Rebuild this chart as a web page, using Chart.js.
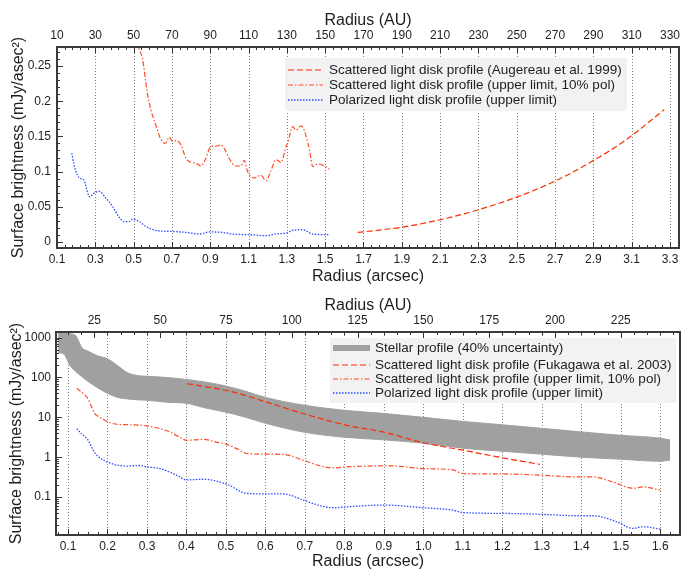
<!DOCTYPE html>
<html>
<head>
<meta charset="utf-8">
<script src="https://cdn.jsdelivr.net/npm/chart.js@4/dist/chart.umd.min.js"></script>
<style>
  html, body { margin: 0; padding: 0; background: #fff; overflow: hidden; width: 698px; height: 569px; }
  .panel { position: absolute; left: 0; width: 698px; }
  #p1 { top: 0; height: 288px; }
  #p2 { top: 288px; height: 290px; }
</style>
</head>
<body>
<div class="panel" id="p1"><canvas id="c1" width="698" height="288"></canvas></div>
<div class="panel" id="p2"><canvas id="c2" width="698" height="290"></canvas></div>
<script>
// ---------- Upper panel: linear surface-brightness profiles ----------
const augereauR  = [1.67, 1.8, 1.9, 2.1, 2.3, 2.5, 2.7, 2.9, 3.07, 3.27];
const augereauSB = [0.0136, 0.0175, 0.021, 0.0316, 0.0458, 0.0638, 0.0865, 0.1157, 0.145, 0.188];

const limitR1  = [0.515, 0.525, 0.546, 0.572, 0.59, 0.616, 0.642, 0.665, 0.686, 0.703, 0.725, 0.747, 0.773, 0.799, 0.825, 0.851, 0.877, 0.903, 0.93, 0.955, 0.975, 0.998, 1.034, 1.06, 1.078, 1.095, 1.13, 1.165, 1.191, 1.215, 1.243, 1.27, 1.296, 1.305, 1.33, 1.348, 1.374, 1.39, 1.409, 1.418, 1.435, 1.461, 1.496, 1.522];
const limitSB1 = [0.30, 0.278, 0.261, 0.211, 0.188, 0.166, 0.146, 0.140, 0.149, 0.143, 0.144, 0.138, 0.119, 0.113, 0.112, 0.108, 0.119, 0.1356, 0.136, 0.138, 0.132, 0.119, 0.108, 0.108, 0.116, 0.100, 0.091, 0.095, 0.087, 0.100, 0.117, 0.113, 0.136, 0.141, 0.164, 0.159, 0.165, 0.159, 0.141, 0.131, 0.107, 0.111, 0.108, 0.1035];

const polR1  = [0.177, 0.189, 0.206, 0.225, 0.241, 0.258, 0.271, 0.293, 0.32, 0.355, 0.39, 0.424, 0.45, 0.475, 0.494, 0.529, 0.564, 0.616, 0.703, 0.773, 0.842, 0.895, 0.965, 1.016, 1.104, 1.19, 1.243, 1.296, 1.33, 1.383, 1.435, 1.522];
const polSB1 = [0.126, 0.110, 0.095, 0.090, 0.088, 0.072, 0.064, 0.0695, 0.072, 0.0624, 0.0505, 0.0355, 0.029, 0.029, 0.0326, 0.029, 0.022, 0.0165, 0.015, 0.0136, 0.0113, 0.0143, 0.0136, 0.0113, 0.0104, 0.009, 0.0117, 0.0126, 0.0165, 0.0175, 0.0113, 0.0104];

// ---------- Lower panel: logarithmic profiles ----------
const stellarR  = [0.075, 0.09, 0.105, 0.12, 0.135, 0.15, 0.175, 0.2, 0.225, 0.25, 0.275, 0.3, 0.35, 0.4, 0.45, 0.5, 0.55, 0.6, 0.7, 0.8, 0.9, 1.0, 1.1, 1.2, 1.3, 1.4, 1.5, 1.6, 1.625];
const stellarHi = [1250, 1300, 1250, 1100, 560, 460, 350, 295, 200, 133, 112, 107, 100, 89, 76, 61, 45, 31.6, 20, 15, 12.5, 10, 7.9, 6.5, 5.3, 4.3, 3.55, 3.0, 2.7];
const stellarLo = [420, 380, 200, 140, 105, 80, 55, 40, 31.6, 29, 27.5, 26.8, 24, 22.4, 17, 13.5, 10, 7.1, 4.2, 3.16, 2.73, 2.24, 1.68, 1.41, 1.19, 1.0, 0.89, 0.79, 0.85];

const fukagawaR  = [0.402, 0.45, 0.502, 0.535, 0.603, 0.7, 0.806, 0.898, 1.0, 1.1, 1.2, 1.295];
const fukagawaSB = [69.6, 58, 47, 39, 24, 12.1, 6.3, 4.3, 2.3, 1.5, 0.97, 0.66];

const limitR2  = [0.122, 0.139, 0.151, 0.16, 0.168, 0.181, 0.202, 0.232, 0.265, 0.3, 0.333, 0.358, 0.38, 0.4, 0.443, 0.476, 0.502, 0.535, 0.552, 0.603, 0.645, 0.696, 0.738, 0.772, 0.806, 0.898, 0.93, 1.0, 1.075, 1.1, 1.2, 1.295, 1.396, 1.43, 1.48, 1.531, 1.557, 1.6];
const limitSB2 = [54, 39, 29, 18, 12.4, 10, 7.6, 6.6, 6.5, 6.1, 5.2, 4.3, 3.3, 2.66, 2.8, 2.4, 2.1, 1.5, 1.24, 1.19, 1.18, 0.84, 0.61, 0.54, 0.57, 0.61, 0.60, 0.52, 0.48, 0.39, 0.38, 0.355, 0.32, 0.32, 0.24, 0.166, 0.18, 0.15];

const polR2  = [0.122, 0.135, 0.147, 0.151, 0.164, 0.173, 0.202, 0.249, 0.282, 0.3, 0.333, 0.375, 0.4, 0.443, 0.502, 0.552, 0.603, 0.645, 0.696, 0.738, 0.772, 0.806, 0.898, 0.924, 1.0, 1.075, 1.1, 1.2, 1.295, 1.396, 1.43, 1.49, 1.53, 1.557, 1.6];
const polSB2 = [5.2, 3.8, 3.0, 2.66, 1.5, 1.12, 0.74, 0.6, 0.62, 0.57, 0.52, 0.355, 0.27, 0.28, 0.21, 0.124, 0.12, 0.12, 0.084, 0.061, 0.054, 0.057, 0.063, 0.062, 0.054, 0.047, 0.041, 0.039, 0.037, 0.034, 0.034, 0.024, 0.0165, 0.018, 0.0158];

// ---------- Axis ticks ----------
const arcsecTicksTop    = [0.1, 0.3, 0.5, 0.7, 0.9, 1.1, 1.3, 1.5, 1.7, 1.9, 2.1, 2.3, 2.5, 2.7, 2.9, 3.1, 3.3];
const auTicksTop        = [10, 30, 50, 70, 90, 110, 130, 150, 170, 190, 210, 230, 250, 270, 290, 310, 330];
const sbTicksTop        = [0, 0.05, 0.1, 0.15, 0.2, 0.25];
const arcsecTicksBottom = [0.1, 0.2, 0.3, 0.4, 0.5, 0.6, 0.7, 0.8, 0.9, 1.0, 1.1, 1.2, 1.3, 1.4, 1.5, 1.6];
const auTicksBottom     = [25, 50, 75, 100, 125, 150, 175, 200, 225];
const sbTicksBottom     = [0.1, 1, 10, 100, 1000];
const AU_PER_ARCSEC_TOP = 100;
const AU_PER_ARCSEC_BOTTOM = 150;

const FONT = "'Liberation Sans', Arial, Helvetica, sans-serif";
const INK = '#1e1e1e';
Chart.defaults.font.family = FONT;
Chart.defaults.color = INK;

function pts(xs, ys) { return xs.map((x, i) => ({ x: x, y: ys[i] })); }

// evenly spaced majors subdivided into minor ticks, kept within [min, max]
function linearTicks(majors, sub, min, max) {
  const step = (majors[1] - majors[0]) / sub;
  const out = [];
  for (let i = Math.ceil((min - majors[0]) / step - 1e-9); majors[0] + i * step <= max + 1e-9; i++) {
    const v = +(majors[0] + i * step).toFixed(6);
    out.push({ value: v, major: majors.includes(v) });
  }
  return out;
}
function logTicks(majors, min, max) {
  const out = [];
  for (let e = Math.floor(Math.log10(min)); e <= Math.ceil(Math.log10(max)); e++) {
    for (let k = 1; k <= 9; k++) {
      const v = +(k * Math.pow(10, e)).toPrecision(6);
      if (v >= min && v <= max) out.push({ value: v, major: majors.includes(v) });
    }
  }
  return out;
}
function labeller(decimals) {
  return (value, index, ticks) => {
    if (!ticks[index].major) return '';
    return decimals == null ? String(value) : Number(value).toFixed(decimals);
  };
}

function lineDS(label, xs, ys, color, dash, width) {
  return {
    label: label, data: pts(xs, ys), borderColor: color, borderDash: dash, borderWidth: width,
    pointRadius: 0, fill: false, cubicInterpolationMode: 'monotone', xAxisID: 'x', yAxisID: 'y'
  };
}

// dotted grid, inward tick marks, frame and the rotated y title
const framePlugin = {
  id: 'frame',
  beforeDatasetsDraw(chart) {
    const { ctx, chartArea: a } = chart;
    const xs = chart.scales.x;
    ctx.save();
    ctx.strokeStyle = '#808080';
    ctx.lineWidth = 1;
    ctx.setLineDash([1, 2]);
    xs.ticks.forEach(t => {
      if (!t.major) return;
      const p = Math.round(xs.getPixelForValue(t.value)) + 0.5;
      if (p <= a.left + 2 || p >= a.right - 2) return;
      ctx.beginPath(); ctx.moveTo(p, a.top); ctx.lineTo(p, a.bottom); ctx.stroke();
    });
    ctx.restore();
  },
  afterDraw(chart, args, opts) {
    const { ctx, chartArea: a } = chart;
    ctx.save();
    ctx.strokeStyle = '#333';
    ctx.lineWidth = 1;
    const mark = (scale, side) => {
      scale.ticks.forEach(t => {
        const len = t.major ? 6 : 3;
        const p = Math.round(scale.getPixelForValue(t.value)) + 0.5;
        if (side === 'left') {
          if (p < a.top || p > a.bottom) return;
          ctx.beginPath(); ctx.moveTo(a.left, p); ctx.lineTo(a.left + len, p); ctx.stroke();
        } else {
          if (p < a.left || p > a.right) return;
          const y0 = side === 'bottom' ? a.bottom : a.top;
          const dir = side === 'bottom' ? -1 : 1;
          ctx.beginPath(); ctx.moveTo(p, y0); ctx.lineTo(p, y0 + dir * len); ctx.stroke();
        }
      });
    };
    mark(chart.scales.x, 'bottom');
    mark(chart.scales.xAU, 'top');
    mark(chart.scales.y, 'left');
    ctx.lineWidth = 2;
    ctx.strokeStyle = '#3a3a3a';
    ctx.strokeRect(a.left, a.top, a.right - a.left, a.bottom - a.top);
    // y axis title
    ctx.fillStyle = INK;
    ctx.font = '16px ' + FONT;
    ctx.textAlign = 'center';
    ctx.textBaseline = 'middle';
    ctx.translate(opts.titleX, (a.top + a.bottom) / 2);
    ctx.rotate(-Math.PI / 2);
    ctx.fillText(opts.title, 0, 0);
    ctx.restore();
  }
};

// legend box inside the plot area
const boxLegendPlugin = {
  id: 'boxLegend',
  afterDatasetsDraw(chart, args, opts) {
    const { ctx } = chart;
    ctx.save();
    ctx.fillStyle = '#f2f2f2';
    ctx.fillRect(opts.left, opts.top, opts.width, opts.height);
    ctx.font = opts.fontSize + 'px ' + FONT;
    ctx.textAlign = 'left';
    ctx.textBaseline = 'middle';
    opts.items.forEach((idx, i) => {
      const ds = chart.data.datasets[idx];
      const y = opts.rows[i];
      const w = opts.sampleWidths[i];
      ctx.strokeStyle = w ? ds.backgroundColor : ds.borderColor;
      ctx.lineWidth = w || ds.borderWidth;
      ctx.setLineDash(w ? [] : ds.borderDash);
      ctx.beginPath(); ctx.moveTo(opts.lineStart, y); ctx.lineTo(opts.lineEnd, y); ctx.stroke();
      ctx.fillStyle = INK;
      ctx.fillText(ds.label, opts.textX, y);
    });
    ctx.restore();
  }
};

function xAxis(pos, min, max, majors, sub, height, pad, title, titlePad, decimals) {
  return {
    type: 'linear', position: pos, min: min, max: max, axis: 'x',
    afterBuildTicks: s => { s.ticks = linearTicks(majors, sub, s.min, s.max); },
    afterFit: s => { s.height = height; },
    grid: { display: false, drawTicks: false },
    border: { display: false },
    ticks: { autoSkip: false, maxRotation: 0, minRotation: 0, padding: pad, font: { size: 12 }, color: INK, callback: labeller(decimals) },
    title: { display: true, text: title, font: { size: 16 }, color: INK, padding: titlePad }
  };
}

const RED = '#ff2a00';
const RED_DD = '#ff4a2a';
const BLUE = '#2a4cff';
const DASH = [6, 3];
const DASH_DOT = [5, 2, 1.5, 2];
const DOT = [1.5, 1.5];
const Y_TITLE = 'Surface brightness (mJy/asec\u00B2)';

// ---------- upper chart ----------
const upperRange = { xMin: 0.1, xMax: 3.347, yMin: -0.0085, yMax: 0.277 };
new Chart(document.getElementById('c1'), {
  type: 'line',
  data: {
    datasets: [
      lineDS('Scattered light disk profile (Augereau et al. 1999)', augereauR, augereauSB, RED, DASH, 1.2),
      lineDS('Scattered light disk profile (upper limit, 10% pol)', limitR1, limitSB1, RED_DD, DASH_DOT, 1.2),
      lineDS('Polarized light disk profile (upper limit)', polR1, polSB1, BLUE, DOT, 1.3)
    ]
  },
  options: {
    responsive: false, animation: false, devicePixelRatio: 1,
    layout: { padding: { left: 0, right: 19, top: 0, bottom: 0 } },
    scales: {
      x: xAxis('bottom', upperRange.xMin, upperRange.xMax, arcsecTicksTop, 5, 40, 4, 'Radius (arcsec)', { top: 0, bottom: 2 }, 1),
      xAU: xAxis('top', upperRange.xMin * AU_PER_ARCSEC_TOP, upperRange.xMax * AU_PER_ARCSEC_TOP, auTicksTop, 5, 47, 4, 'Radius (AU)', { top: 11, bottom: 0 }, null),
      y: {
        type: 'linear', position: 'left', min: upperRange.yMin, max: upperRange.yMax,
        afterBuildTicks: s => { s.ticks = linearTicks(sbTicksTop, 5, s.min, s.max); },
        afterFit: s => { s.width = 57; },
        grid: { display: false, drawTicks: false }, border: { display: false },
        ticks: { autoSkip: false, padding: 6, font: { size: 12 }, color: INK, callback: labeller(null) },
        title: { display: false }
      }
    },
    plugins: {
      legend: { display: false }, tooltip: { enabled: false },
      frame: { title: Y_TITLE, titleX: 18.5 },
      boxLegend: { left: 285, top: 58, width: 342, height: 53, rows: [70, 85, 100], items: [0, 1, 2],
                   sampleWidths: [0, 0, 0], lineStart: 288, lineEnd: 323, textX: 329, fontSize: 13.5 }
    }
  },
  plugins: [framePlugin, boxLegendPlugin]
});

// ---------- lower chart ----------
const lowerRange = { xMin: 0.0696, xMax: 1.65, yMin: 0.0112, yMax: 1380 };
const stellarLoDS = lineDS('', stellarR, stellarLo, '#a0a0a0', [], 1);
const stellarHiDS = lineDS('Stellar profile (40% uncertainty)', stellarR, stellarHi, '#a0a0a0', [], 1);
stellarHiDS.fill = '-1';
stellarHiDS.backgroundColor = '#a0a0a0';
stellarLoDS.backgroundColor = '#a0a0a0';
new Chart(document.getElementById('c2'), {
  type: 'line',
  data: {
    datasets: [
      lineDS('Scattered light disk profile (Fukagawa et al. 2003)', fukagawaR, fukagawaSB, RED, DASH, 1.2),
      lineDS('Scattered light disk profile (upper limit, 10% pol)', limitR2, limitSB2, RED_DD, DASH_DOT, 1.2),
      lineDS('Polarized light disk profile (upper limit)', polR2, polSB2, BLUE, DOT, 1.3),
      stellarLoDS,
      stellarHiDS
    ]
  },
  options: {
    responsive: false, animation: false, devicePixelRatio: 1,
    layout: { padding: { left: 0, right: 18, top: 0, bottom: 0 } },
    scales: {
      x: xAxis('bottom', lowerRange.xMin, lowerRange.xMax, arcsecTicksBottom, 4, 43, 4.5, 'Radius (arcsec)', { top: 0, bottom: 6.7 }, 1),
      xAU: xAxis('top', lowerRange.xMin * AU_PER_ARCSEC_BOTTOM, lowerRange.xMax * AU_PER_ARCSEC_BOTTOM, auTicksBottom, 5, 44, 4, 'Radius (AU)', { top: 8, bottom: 0 }, null),
      y: {
        type: 'logarithmic', position: 'left', min: lowerRange.yMin, max: lowerRange.yMax,
        afterBuildTicks: s => { s.ticks = logTicks(sbTicksBottom, s.min, s.max); },
        afterFit: s => { s.width = 56; },
        grid: { display: false, drawTicks: false }, border: { display: false },
        ticks: { autoSkip: false, padding: 5, font: { size: 12 }, color: INK, callback: labeller(null) },
        title: { display: false }
      }
    },
    plugins: {
      legend: { display: false }, tooltip: { enabled: false },
      frame: { title: Y_TITLE, titleX: 16.7 },
      boxLegend: { left: 330, top: 50, width: 346, height: 65, rows: [60, 77, 91, 105], items: [4, 0, 1, 2],
                   sampleWidths: [6, 0, 0, 0], lineStart: 333, lineEnd: 370, textX: 375, fontSize: 13.5 }
    }
  },
  plugins: [framePlugin, boxLegendPlugin]
});
</script>
</body>
</html>
